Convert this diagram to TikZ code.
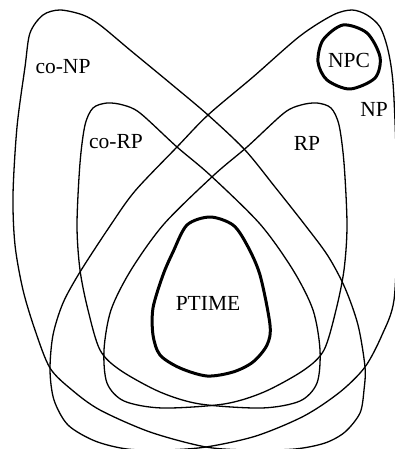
\documentclass[tikz,border=0pt]{standalone}
\usepackage{fontspec}
\setmainfont{Liberation Serif}
\usetikzlibrary{positioning}
\tikzset{
  classline/.style={draw, line width=1.3pt, line join=round},
  coreline/.style={draw, line width=3pt, line join=round},
  classname/.style={font=\fontsize{21.5}{25}\selectfont, inner sep=0pt}
}

\begin{document}
\begin{tikzpicture}[x=1pt, y=-1pt]
  \useasboundingbox (0,0) rectangle (394,449);
  % co-NP
  \draw[classline] plot[smooth cycle] coordinates {(60,10) (83,15) (100,25) (130,50) (170,83) (208,115) (245,150) (275,187) (305,225) (328,256) (345,288) (358,325) (365,367) (364,390) (360,413) (345,432) (325,443) (295,449) (250,450) (206,447) (150,432) (100,410) (72,390) (50,368) (35,330) (23,290) (15,245) (13,195) (17,127) (25,67) (30,33) (43,15)};
  % NP
  \draw[classline] plot[smooth cycle] coordinates {(352,10) (367,15) (380,27) (388,50) (393,83) (396,150) (397,225) (394,300) (382,335) (365,367) (340,392) (304,416) (256,436) (206,447) (165,450) (127,449) (95,441) (68,425) (54,400) (50,370) (53,335) (63,303) (80,272) (110,226) (135,191) (177,147) (208,115) (253,77) (300,36) (333,15)};
  % co-RP
  \draw[classline] plot[smooth cycle] coordinates {(107,103) (123,105) (140,113) (177,147) (210,175) (260,224) (293,270) (313,310) (320,350) (317,383) (300,401) (262,408) (200,404) (160,392) (120,370) (100,350) (88,310) (80,270) (77,225) (80,163) (85,125) (93,108)};
  % RP
  \draw[classline] plot[smooth cycle] coordinates {(317,103) (301,105) (284,113) (247,147) (214,175) (164,224) (131,270) (111,310) (104,350) (107,383) (124,401) (162,408) (224,404) (264,392) (304,370) (324,350) (336,310) (344,270) (347,225) (344,163) (339,125) (331,108)};
  % NPC
  \draw[coreline] plot[smooth cycle] coordinates {(343,25) (367,33) (380,57) (375,78) (350,89) (327,80) (318,62) (323,40)};
  % PTIME
  \draw[coreline] plot[smooth cycle] coordinates {(210,217) (233,225) (247,245) (260,275) (270,325) (267,345) (253,362) (233,372) (207,376) (180,368) (160,355) (153,335) (153,308) (163,275) (173,252) (187,225)};

  \node[classname] (conp) at (63,67) {co-NP};
  \node[classname] (corp) at (116,142) {co-RP};
  \node[classname] (rp) at (307,143) {RP};
  \node[classname] (np) at (374,109) {NP};
  \node[classname] (npc) at (349,60) {NPC};
  \node[classname] (ptime) at (208,303) {PTIME};
\end{tikzpicture}
\end{document}
